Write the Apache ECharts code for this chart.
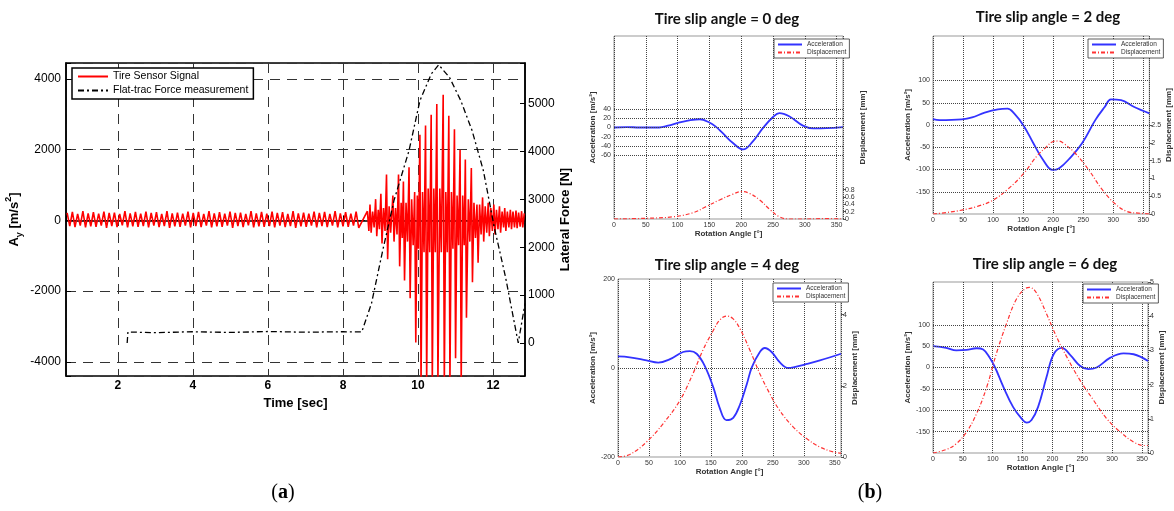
<!DOCTYPE html>
<html>
<head>
<meta charset="utf-8">
<script src="https://cdn.jsdelivr.net/npm/echarts@6/dist/echarts.min.js"></script>
<style>html,body{margin:0;padding:0;background:#fff}#c{width:1174px;height:511px}</style>
</head>
<body>
<div id="c"></div>
<script>
// ---------- (a) Time-domain data ----------
const bgStart = 0.65, bgStep = 0.07;
const bgVals = [210,-160,240,-190,180,-150,260,-200,200,-170,230,-180,190,-150,250,-210,210,-160,220,-190,180,-140,260,-200,200,-170,240,-180,190,-160,
 250,-200,210,-150,230,-190,180,-160,260,-210,200,-170,220,-180,190,-150,250,-200,210,-160,240,-190,180,-150,260,-200,200,-170,230,-180,
 190,-150,250,-210,210,-160,220,-190,180,-140,260,-200,200,-170,240,-180,190,-160,250,-200,210,-150,230,-190,180,-160,260,-210,200,-170,
 220,-180,190,-150,250,-200,210,-160,240,-190,180,-150,260,-200,200,-170,230,-180,190,-150,250,-210];
const burstT = [8.65,8.69,8.72,8.75,8.79,8.83,8.87,8.90,8.94,8.97,9.01,9.04,9.08,9.12,9.16,9.19,9.23,9.27,9.33,9.36,9.40,9.44,9.48,9.51,9.55,9.58,9.61,9.64,9.68,9.72,
 9.76,9.79,9.83,9.87,9.91,9.94,9.98,10.01,10.05,10.08,10.12,10.16,10.20,10.23,10.27,10.31,10.35,10.38,10.42,10.46,10.50,10.53,10.58,10.62,10.67,10.70,10.74,10.78,10.82,10.85,
 10.89,10.93,10.97,11.00,11.04,11.08,11.12,11.15,11.19,11.23,11.26,11.29,11.34,11.38,11.42,11.45,11.49,11.53,11.57,11.60,11.64,11.68,11.72,11.75,11.79,11.83,11.87,11.90,11.94,11.98,
 12.02,12.05,12.09,12.13,12.17,12.20,12.24,12.28,12.31,12.34,12.38,12.42,12.46,12.49,12.53,12.57,12.61,12.64,12.68,12.72,12.76,12.79,12.83];
const burstV = [260,-300,450,-350,250,-200,600,-450,300,-250,750,-650,350,-300,1300,-1100,400,-350,700,-600,350,-400,1300,-1300,500,-500,1100,-1700,500,-600,
 1500,-2200,600,-700,800,-3450,700,-800,2420,-4600,800,-900,2680,-4600,900,-900,2990,-4600,900,-900,3290,-4600,900,-900,3550,-4600,800,-900,2960,-4600,
 800,-800,2580,-3900,700,-700,2000,-4600,700,-700,1720,-2750,600,-600,1480,-1750,500,-500,450,-1200,450,-400,650,-600,400,-350,500,-450,350,-300,
 450,-400,300,-250,400,-350,250,-200,350,-300,250,-200,300,-250,250,-200,280,-220,220,-180,260,-200,200];
const forceT = [2.25,2.27,3.0,4.0,5.0,6.0,7.0,8.0,8.50,8.76,9.06,9.36,9.76,10.05,10.35,10.55,10.84,11.14,11.44,11.74,12.03,12.33,12.67,12.85];
const forceV = [0,230,215,235,220,240,225,235,230,826,1937,2979,4021,5063,5618,5812,5548,5063,4438,3604,2423,1381,0,826];

// ---------- (b) Rotation-angle data ----------
const acc0Ang = [0,20,40,71,85,103,120,135,150,160,171,187,203,218,234,250,260,276,297,313,334,360];
const acc0 = [0,1,0,0,4,11,16,18,11,2,-12.5,-34,-48,-31,-1.5,23,31.5,24,4,-2,-1.5,1];
const disp0Ang = [0,51,93,124,145,166,187,200,213,229,245,260,274,300,330,360];
const disp0 = [0,0.02,0.06,0.17,0.34,0.52,0.68,0.75,0.70,0.52,0.26,0.06,0,0,0.01,0];

const acc2Ang = [0,11,48,65,86,108,124,135,151,167,183,199,210,226,248,270,286,296,313,334,360];
const acc2 = [13,11,12.7,17,27.6,35,36.6,26,-2,-41,-78,-101,-97,-77,-41,11,41,57.5,56,41,26];
const disp2Ang = [0,22,48,75,100,124,151,172,189,199,208,216,237,259,280,302,323,345,360];
const disp2 = [0,0.04,0.11,0.22,0.39,0.69,1.14,1.61,1.89,2.03,2.05,2.0,1.70,1.24,0.72,0.30,0.07,0.02,0];

const acc4Ang = [0,19,46,65,84,105,116,127,140,154,164,175,186,197,208,216,229,237,248,261,275,283,305,326,360];
const acc4 = [26,24,17,12,20,36,38,32,5,-44,-89,-117,-112,-82,-36,1.5,36,45,36,13,0,1.5,9,17,32];
const disp4Ang = [0,19,46,73,100,121,137,154,164,175,186,197,213,229,245,261,283,305,326,348,360];
const disp4 = [0,0.07,0.42,0.94,1.59,2.34,3.0,3.56,3.84,3.96,3.88,3.6,3.0,2.34,1.78,1.31,0.84,0.51,0.28,0.14,0.11];

const acc6Ang = [0,22,39,56,73,84,95,104,118,134,148,157,165,176,190,202,216,230,246,260,274,297,319,336,360];
const acc6 = [50,46,40,41,45,42,23,0,-46,-92,-119,-129,-123,-92,-23,31,46,29,4,-4,0,23,33,31,15];
const disp6Ang = [0,22,39,56,73,90,106,123,140,154,162,174,190,207,224,246,269,291,314,336,353,360];
const disp6 = [0,0.1,0.27,0.61,1.15,1.93,2.9,3.78,4.51,4.8,4.84,4.66,4.07,3.39,2.81,2.13,1.54,1.0,0.61,0.32,0.22,0.22];

const panelTitles = ['Tire slip angle = 0 deg','Tire slip angle = 2 deg','Tire slip angle = 4 deg','Tire slip angle = 6 deg'];
const accTicks = [[-60,-40,-20,0,20,40],[-150,-100,-50,0,50,100],[-200,0,200],[-150,-100,-50,0,50,100]];
const dispTicks = [[0,0.2,0.4,0.6,0.8],[0,0.5,1,1.5,2,2.5],[0,2,4],[0,1,2,3,4,5]];
const accGridVals = [[-60,-40,-20,0,20,40],[-150,-100,-50,0,50,100],[0],[-150,-100,-50,0,50,100]];

// ---------- build ----------
const zip = (a,b) => a.map((v,i)=>[v,b[i]]);
const sigData = bgVals.map((v,i)=>[bgStart+i*bgStep, v]).concat(zip(burstT, burstV));
const forceData = zip(forceT, forceV);
const accSets = [zip(acc0Ang,acc0), zip(acc2Ang,acc2), zip(acc4Ang,acc4), zip(acc6Ang,acc6)];
const dispSets = [zip(disp0Ang,disp0), zip(disp2Ang,disp2), zip(disp4Ang,disp4), zip(disp6Ang,disp6)];

const SANS = 'Liberation Sans, Arial, sans-serif';
const near = (v, arr) => arr.some(t => Math.abs(t - v) < 1e-6);

const grids = [
  {left:66, top:63, width:459, height:313, show:true, borderColor:'#000', borderWidth:1.5, backgroundColor:'#fff'},
  {left:614, top:36, width:229, height:183, show:true, borderColor:'#999', borderWidth:1},
  {left:933, top:36, width:223, height:178, show:true, borderColor:'#999', borderWidth:1},
  {left:618, top:279, width:223, height:178, show:true, borderColor:'#999', borderWidth:1},
  {left:933, top:282, width:215, height:171, show:true, borderColor:'#999', borderWidth:1}
];

const xAxes = [{
  type:'value', gridIndex:0, min:0.62, max:12.85, splitNumber:6,
  name:'Time [sec]', nameLocation:'middle', nameGap:14,
  nameTextStyle:{fontFamily:SANS, fontSize:13, fontWeight:'bold', color:'#000'},
  axisLine:{show:true, lineStyle:{color:'#000', width:1.5}},
  axisTick:{show:true, inside:true, length:5, lineStyle:{color:'#000'}},
  axisLabel:{fontFamily:SANS, fontSize:12, fontWeight:'bold', color:'#000', margin:4,
    formatter: v => (Math.abs(v-Math.round(v))<1e-6 && Math.round(v)%2===0) ? String(Math.round(v)) : ''},
  splitLine:{show:true, lineStyle:{color:'#333', type:[10,7], width:1}}
}];
const yAxes = [{
  type:'value', gridIndex:0, min:-4400, max:4450, splitNumber:4, position:'left',
  name:'{b|A}{s|y}{b| [m/s}{p|2}{b|]}', nameLocation:'middle', nameGap:42, nameRotate:90,
  nameTextStyle:{color:'#000', rich:{
    b:{fontFamily:SANS, fontSize:13, fontWeight:'bold', lineHeight:20, color:'#000'},
    s:{fontFamily:SANS, fontSize:9, fontWeight:'bold', lineHeight:9, verticalAlign:'bottom', color:'#000'},
    p:{fontFamily:SANS, fontSize:9, fontWeight:'bold', lineHeight:9, verticalAlign:'top', color:'#000'}}},
  axisLine:{show:true, lineStyle:{color:'#000', width:1.5}},
  axisTick:{show:true, inside:true, length:5, lineStyle:{color:'#000'}},
  axisLabel:{fontFamily:SANS, fontSize:12, color:'#000', margin:5,
    formatter: v => (Math.round(v)%2000===0) ? String(Math.round(v)) : ''},
  splitLine:{show:true, lineStyle:{color:'#333', type:[10,7], width:1}}
},{
  type:'value', gridIndex:0, min:-690, max:5850, splitNumber:6, position:'right',
  name:'Lateral Force [N]', nameLocation:'middle', nameGap:34, nameRotate:90,
  nameTextStyle:{fontFamily:SANS, fontSize:13, fontWeight:'bold', color:'#000'},
  axisLine:{show:true, lineStyle:{color:'#000', width:1.5}},
  axisTick:{show:true, inside:true, length:5, lineStyle:{color:'#000'}},
  axisLabel:{fontFamily:SANS, fontSize:12, color:'#000', margin:3,
    formatter: v => (Math.round(v)%1000===0 && v>=0) ? String(Math.round(v)) : ''},
  splitLine:{show:false}
}];

const accInterval = [20,50,200,50];
const dispInterval = [0.2,0.5,2,1];
const series = [{
  name:'Tire Sensor Signal', type:'line', xAxisIndex:0, yAxisIndex:0, data:sigData,
  symbol:'none', lineStyle:{color:'#ff0000', width:1.6}, itemStyle:{color:'#ff0000'}, animation:false, z:2
},{
  name:'Flat-trac Force measurement', type:'line', xAxisIndex:0, yAxisIndex:1, data:forceData,
  symbol:'none', lineStyle:{color:'#000', width:1.3, type:[6,3,2,3]}, itemStyle:{color:'#000'}, animation:false, z:3
}];
const legends = [{
  left:72, top:68, orient:'vertical', data:['Tire Sensor Signal','Flat-trac Force measurement'],
  backgroundColor:'#fff', borderColor:'#000', borderWidth:1.5, padding:[3,5,3,5], itemGap:3,
  itemWidth:30, itemHeight:10, itemStyle:{opacity:0},
  textStyle:{fontFamily:SANS, fontSize:10.5, color:'#000'}
}];
const legendPos = [[774,39],[1088,39],[773,283],[1083,284]];
const leftNameGap = [16,18,19,18];
const rightNameGap = [16,8,9,8];

for (let k=0;k<4;k++){
  const g = k+1;
  xAxes.push({
    type:'value', gridIndex:g, min:0, max:360, interval:50,
    name:'Rotation Angle [°]', nameLocation:'middle', nameGap:10,
    nameTextStyle:{fontFamily:SANS, fontSize:8, fontWeight:'bold', color:'#333'},
    axisLine:{show:false}, axisTick:{show:false},
    axisLabel:{fontFamily:SANS, fontSize:7, color:'#333', margin:3, formatter: v => v>355 ? '' : String(v)},
    splitLine:{show:true, lineStyle:{color:'#444', type:'dotted', width:1}}
  });
  const at = accTicks[k], dt = dispTicks[k];
  yAxes.push({
    type:'value', gridIndex:g, min:-200, max:200, interval:accInterval[k], position:'left',
    name:'Acceleration [m/s²]', nameLocation:'middle', nameGap:leftNameGap[k], nameRotate:90,
    nameTextStyle:{fontFamily:SANS, fontSize:8, fontWeight:'bold', color:'#333'},
    axisLine:{show:false}, axisTick:{show:false},
    axisLabel:{fontFamily:SANS, fontSize:7, color:'#333', margin:3, formatter: v => near(v, at) ? String(v) : ''},
    splitLine:{show:false}
  });
  yAxes.push({
    type:'value', gridIndex:g, min:0, max:5, interval:dispInterval[k], position:'right',
    name:'Displacement [mm]', nameLocation:'middle', nameGap:rightNameGap[k], nameRotate:90,
    nameTextStyle:{fontFamily:SANS, fontSize:8, fontWeight:'bold', color:'#333'},
    axisLine:{show:false},
    axisTick:{show:true, length:3, lineStyle:{color:'#555'}, customValues: dt},
    axisLabel:{fontFamily:SANS, fontSize:7, color:'#333', margin:2, formatter: v => near(v, dt) ? String(v) : ''},
    splitLine:{show:false}
  });
  series.push({
    name:'Acceleration', type:'line', xAxisIndex:g, yAxisIndex:2*k+2, data:accSets[k], smooth:0.4,
    symbol:'none', lineStyle:{color:'#3333ff', width:1.8}, itemStyle:{color:'#3333ff'}, animation:false, z:3,
    markLine:{silent:true, symbol:['none','none'], label:{show:false}, animation:false,
      lineStyle:{color:'#444', type:'dotted', width:1},
      data: accGridVals[k].map(v=>({yAxis:v}))}
  });
  series.push({
    name:'Displacement', type:'line', xAxisIndex:g, yAxisIndex:2*k+3, data:dispSets[k], smooth:0.4,
    symbol:'none', lineStyle:{color:'#ff3333', width:1.2, type:[4,2,1,2]}, itemStyle:{color:'#ff3333'}, animation:false, z:3
  });
  legends.push({
    left:legendPos[k][0], top:legendPos[k][1], orient:'vertical', data:['Acceleration','Displacement'],
    backgroundColor:'#fff', borderColor:'#333', borderWidth:0.8, padding:[2,3,2,3], itemGap:1,
    itemWidth:24, itemHeight:6, itemStyle:{opacity:0},
    textStyle:{fontFamily:SANS, fontSize:6.5, color:'#333'}
  });
}

const titlePos = [[727,19],[1048,17],[727,265],[1045,264]];
const graphics = panelTitles.map((t,i)=>({
  type:'text', x:titlePos[i][0], y:titlePos[i][1], silent:true,
  style:{text:t, x:0, y:0, align:'center', verticalAlign:'middle', fill:'#111',
    font:'bold 15px Lato, "Open Sans", sans-serif'}
}));
graphics.push({type:'text', x:283, y:493, silent:true, style:{text:'({b|a})', align:'center', verticalAlign:'middle', fill:'#000',
  font:'20px "Liberation Serif", serif', rich:{b:{fontWeight:'bold', fontSize:20, fontFamily:'Liberation Serif'}}}});
graphics.push({type:'text', x:870, y:493, silent:true, style:{text:'({b|b})', align:'center', verticalAlign:'middle', fill:'#000',
  font:'20px "Liberation Serif", serif', rich:{b:{fontWeight:'bold', fontSize:20, fontFamily:'Liberation Serif'}}}});

const chart = echarts.init(document.getElementById('c'), null, {renderer:'canvas'});
chart.setOption({
  animation:false,
  backgroundColor:'#fff',
  grid:grids, xAxis:xAxes, yAxis:yAxes, series:series, legend:legends, graphic:graphics
});
</script>
</body>
</html>
